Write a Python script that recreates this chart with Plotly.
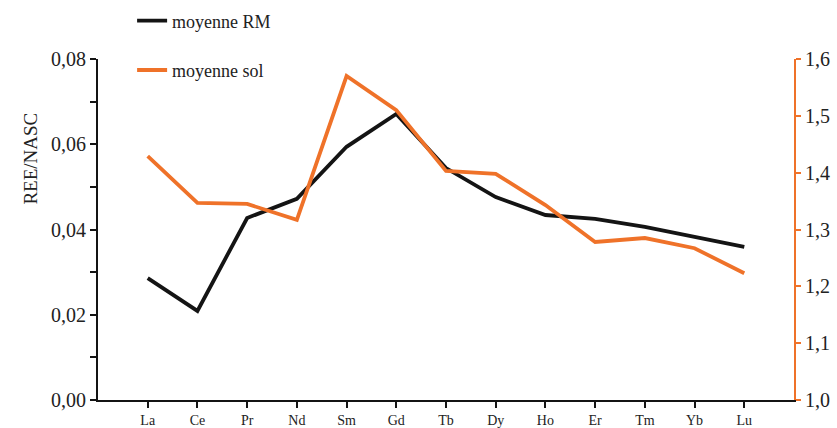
import plotly.graph_objs as go

# Données
elements = ['La', 'Ce', 'Pr', 'Nd', 'Sm', 'Gd', 'Tb', 'Dy', 'Ho', 'Er', 'Tm', 'Yb', 'Lu']
positions = list(range(1, len(elements) + 1))
moyenne_rm = [0.0286, 0.0209, 0.0427, 0.0472, 0.0594, 0.0671, 0.0544,
              0.0476, 0.0434, 0.0425, 0.0406, 0.0382, 0.0359]
moyenne_sol = [1.429, 1.347, 1.345, 1.317, 1.570, 1.510, 1.403,
               1.398, 1.343, 1.278, 1.285, 1.267, 1.223]

noir = '#141414'
orange = '#EF7229'
police = 'Liberation Serif'

trace_rm = go.Scatter(
    x=positions, y=moyenne_rm, mode='lines', name='moyenne RM',
    line=dict(color=noir, width=3.8), legendgroup='rm'
)
trace_sol = go.Scatter(
    x=positions, y=moyenne_sol, mode='lines', name='moyenne sol',
    line=dict(color=orange, width=3.8), yaxis='y2', legendgroup='sol'
)

layout = go.Layout(
    width=837, height=428,
    margin=dict(l=98, r=43, t=59, b=28, autoexpand=False),
    paper_bgcolor='white', plot_bgcolor='white',
    separators=', ',
    font=dict(family=police, size=18, color='#222'),
    showlegend=True,
    legend=dict(
        x=0.049, y=1.166, xanchor='left', yanchor='top',
        bgcolor='rgba(0,0,0,0)', tracegroupgap=23,
        font=dict(size=18), itemwidth=30
    ),
    xaxis=dict(
        range=[0, 14], tickvals=positions, ticktext=elements,
        showline=True, linecolor=noir, linewidth=2,
        ticks='outside', ticklen=6, tickwidth=2, tickcolor=noir,
        showgrid=False, zeroline=False,
        tickfont=dict(size=14, family=police)
    ),
    yaxis=dict(
        range=[0, 0.08], dtick=0.02, tickformat='.2f',
        showline=True, linecolor=noir, linewidth=2,
        ticks='outside', ticklen=6, tickwidth=2, tickcolor=noir,
        minor=dict(dtick=0.01, ticks='outside', ticklen=6, tickwidth=2, tickcolor=noir),
        showgrid=False, zeroline=False,
        tickfont=dict(size=20, family=police)
    ),
    yaxis2=dict(
        range=[1.0, 1.6], dtick=0.1, tickformat='.1f',
        overlaying='y', side='right',
        showline=True, linecolor=orange, linewidth=2,
        ticks='outside', ticklen=5, tickwidth=2, tickcolor=orange,
        showgrid=False, zeroline=False,
        tickfont=dict(size=20, family=police)
    ),
    annotations=[dict(
        text='REE/NASC', xref='paper', yref='paper',
        x=-0.115, y=0.85, textangle=-90, showarrow=False,
        font=dict(size=19, family=police)
    )]
)

fig = go.Figure(data=[trace_rm, trace_sol], layout=layout)
# la page a une marge de 8 px par défaut : on la supprime
fig.write_html("out.html", config={'displayModeBar': False},
               post_script="document.body.style.margin='0';")
